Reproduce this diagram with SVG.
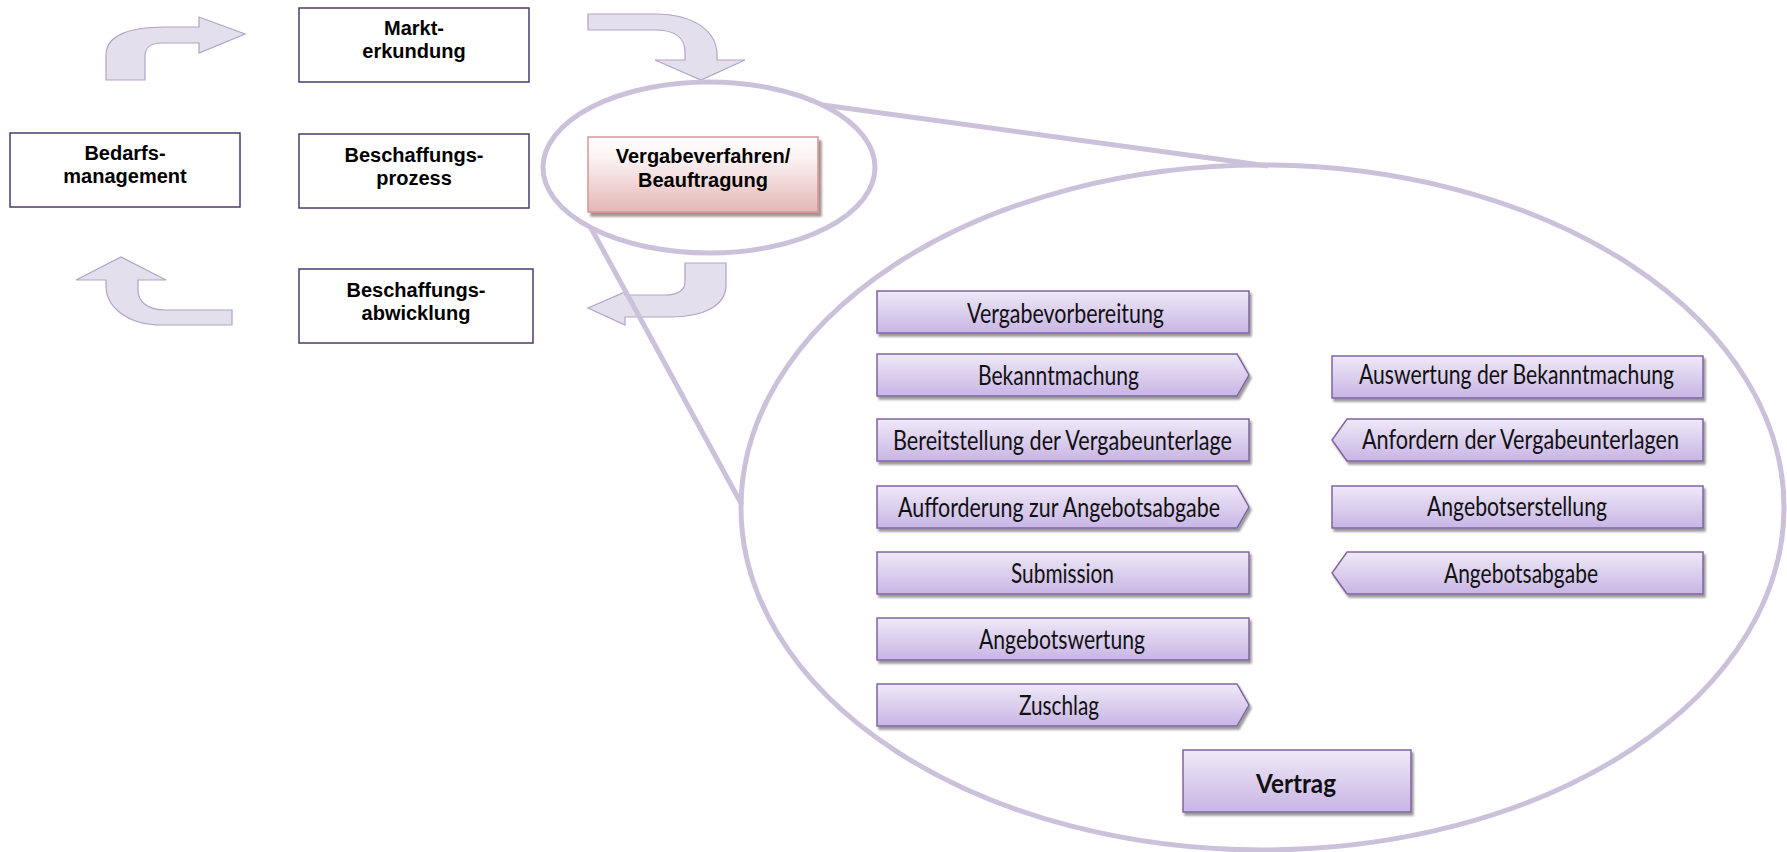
<svg xmlns="http://www.w3.org/2000/svg" width="1787" height="852" viewBox="0 0 1787 852">
<defs>
<linearGradient id="gp" x1="0" y1="0" x2="0" y2="1">
<stop offset="0" stop-color="#efe9f7"/>
<stop offset="1" stop-color="#c8b5e5"/>
</linearGradient>
<linearGradient id="gr" x1="0" y1="0" x2="0" y2="1">
<stop offset="0" stop-color="#ffffff"/>
<stop offset="0.3" stop-color="#fbf1f1"/>
<stop offset="1" stop-color="#e4b6b5"/>
</linearGradient>
<filter id="sh" x="-5%" y="-20%" width="110%" height="150%">
<feDropShadow dx="2" dy="3" stdDeviation="1.3" flood-color="#000" flood-opacity="0.4"/>
</filter>
<filter id="shr" x="-5%" y="-20%" width="110%" height="150%">
<feDropShadow dx="3" dy="4" stdDeviation="0.8" flood-color="#6b4a4a" flood-opacity="0.6"/>
</filter>
<style>
.box{fill:#fff;stroke:#4b3b6b;stroke-width:1.5}
.lbl{font-family:"Liberation Sans",Arial,sans-serif;font-weight:bold;font-size:20px;text-anchor:middle;fill:#000}
.step{fill:url(#gp);stroke:#8064a2;stroke-width:1.5;filter:url(#sh)}
.st{font-family:Lato,"Open Sans",sans-serif;font-size:26px;fill:#111}
.arr{fill:#e4dfec;stroke:#b3a2c7;stroke-width:1.2}
.mag{fill:none;stroke:#ccc1da;stroke-width:5}
</style>
</defs>
<rect width="1787" height="852" fill="#fff"/>

<g id="connectors">
<path class="arr" d="M106,80 L106,55 C106,36 128,27 165,27 L199,27 L199,17 L245,34 L199,53 L199,43 L162,43 C151,43 145,48 145,56 L145,80 Z"/>
<path class="arr" d="M588,14 L655,14 C695,14 717,32 717,55 L717,60 L745,60 L701,80 L655,60 L685,60 L685,52 C685,38 675,30 655,30 L588,30 Z"/>
<path class="arr" d="M726,263 L726,285 C726,305 705,317 670,317 L625,317 L625,325 L588,308 L625,292 L625,295 L665,295 C678,295 685,290 685,282 L685,263 Z"/>
<path class="arr" d="M232,325 L162,325 C126,325 106,306 106,286 L106,280 L76,280 L121,257 L166,280 L138,280 L138,290 C138,302 148,310 165,310 L232,310 Z"/>
</g>

<g id="magnifier">
<ellipse class="mag" cx="709" cy="167.5" rx="166" ry="85.5"/>
<ellipse class="mag" cx="1262.5" cy="507.5" rx="521.5" ry="342.5"/>
<line class="mag" x1="823" y1="105" x2="1268" y2="166"/>
<line class="mag" x1="591" y1="228" x2="742" y2="505"/>
</g>

<g id="node-markterkundung">
<rect class="box" x="299" y="8" width="230" height="74"/>
<text class="lbl" x="414" y="35">Markt-</text>
<text class="lbl" x="414" y="58">erkundung</text>
</g>
<g id="node-bedarfsmanagement">
<rect class="box" x="10" y="133" width="230" height="74"/>
<text class="lbl" x="125" y="160">Bedarfs-</text>
<text class="lbl" x="125" y="183">management</text>
</g>
<g id="node-beschaffungsprozess">
<rect class="box" x="299" y="134" width="230" height="74"/>
<text class="lbl" x="414" y="162">Beschaffungs-</text>
<text class="lbl" x="414" y="185">prozess</text>
</g>
<g id="node-beschaffungsabwicklung">
<rect class="box" x="299" y="269" width="234" height="74"/>
<text class="lbl" x="416" y="297">Beschaffungs-</text>
<text class="lbl" x="416" y="320">abwicklung</text>
</g>
<g id="node-vergabeverfahren">
<rect x="588" y="137" width="230" height="75" fill="url(#gr)" stroke="#d99594" stroke-width="1.5" filter="url(#shr)"/>
<text class="lbl" x="703" y="163">Vergabeverfahren/</text>
<text class="lbl" x="703" y="187">Beauftragung</text>
</g>

<g id="node-vergabevorbereitung">
<rect class="step" x="877" y="291" width="372" height="42"/>
<text class="st" x="967" y="323" textLength="197" lengthAdjust="spacingAndGlyphs">Vergabevorbereitung</text>
</g>
<g id="node-bekanntmachung">
<path class="step" d="M877,354 L1237,354 L1249,375 L1237,396 L877,396 Z"/>
<text class="st" x="978" y="385" textLength="161" lengthAdjust="spacingAndGlyphs">Bekanntmachung</text>
</g>
<g id="node-bereitstellung">
<rect class="step" x="877" y="419" width="372" height="42"/>
<text class="st" x="893" y="450" textLength="339" lengthAdjust="spacingAndGlyphs">Bereitstellung der Vergabeunterlage</text>
</g>
<g id="node-aufforderung">
<path class="step" d="M877,486 L1237,486 L1249,507 L1237,528 L877,528 Z"/>
<text class="st" x="898" y="517" textLength="322" lengthAdjust="spacingAndGlyphs">Aufforderung zur Angebotsabgabe</text>
</g>
<g id="node-submission">
<rect class="step" x="877" y="552" width="372" height="42"/>
<text class="st" x="1011" y="583" textLength="103" lengthAdjust="spacingAndGlyphs">Submission</text>
</g>
<g id="node-angebotswertung">
<rect class="step" x="877" y="618" width="372" height="42"/>
<text class="st" x="979" y="649" textLength="166" lengthAdjust="spacingAndGlyphs">Angebotswertung</text>
</g>
<g id="node-zuschlag">
<path class="step" d="M877,684 L1237,684 L1249,705 L1237,726 L877,726 Z"/>
<text class="st" x="1019" y="715" textLength="80" lengthAdjust="spacingAndGlyphs">Zuschlag</text>
</g>
<g id="node-auswertung">
<rect class="step" x="1332" y="356" width="371" height="42"/>
<text class="st" x="1359" y="384" textLength="315" lengthAdjust="spacingAndGlyphs">Auswertung der Bekanntmachung</text>
</g>
<g id="node-anfordern">
<path class="step" d="M1347,419 L1703,419 L1703,461 L1347,461 L1332,440 Z"/>
<text class="st" x="1362" y="449" textLength="317" lengthAdjust="spacingAndGlyphs">Anfordern der Vergabeunterlagen</text>
</g>
<g id="node-angebotserstellung">
<rect class="step" x="1332" y="486" width="371" height="42"/>
<text class="st" x="1427" y="516" textLength="180" lengthAdjust="spacingAndGlyphs">Angebotserstellung</text>
</g>
<g id="node-angebotsabgabe">
<path class="step" d="M1347,552 L1703,552 L1703,594 L1347,594 L1332,573 Z"/>
<text class="st" x="1444" y="583" textLength="154" lengthAdjust="spacingAndGlyphs">Angebotsabgabe</text>
</g>
<g id="node-vertrag">
<rect class="step" x="1183" y="750" width="228" height="62"/>
<text class="st" x="1256" y="793" font-size="32" font-weight="bold" textLength="80" lengthAdjust="spacingAndGlyphs">Vertrag</text>
</g>
</svg>
